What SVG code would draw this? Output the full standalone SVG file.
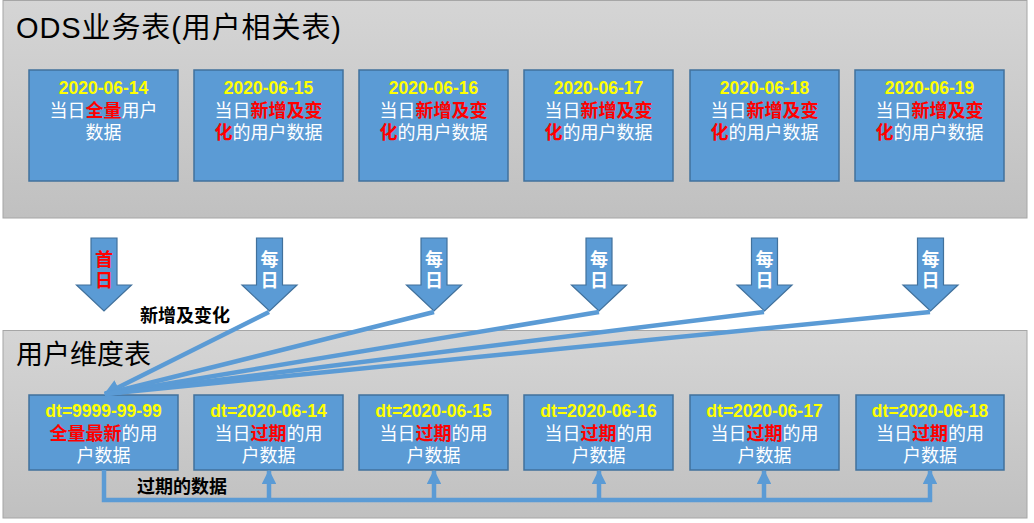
<svg xmlns="http://www.w3.org/2000/svg" width="1034" height="523" viewBox="0 0 1034 523">
<defs>
<linearGradient id="pg" x1="0" y1="0" x2="0" y2="1">
<stop offset="0" stop-color="#d5d5d5"/>
<stop offset="1" stop-color="#c0c0c0"/>
</linearGradient>
<marker id="ah" viewBox="0 0 10 10" refX="9" refY="5" markerWidth="3.6" markerHeight="3.6" orient="auto" markerUnits="strokeWidth">
<path d="M0,0 L10,5 L0,10 z" fill="#5b9bd5"/>
</marker>
<marker id="uh" viewBox="0 0 10 10" refX="9" refY="5" markerWidth="3.3" markerHeight="3.3" orient="auto" markerUnits="strokeWidth">
<path d="M0,0 L10,5 L0,10 z" fill="#5b9bd5"/>
</marker>
<path id="down" d="M-13,0 H13 V47 H27.5 L0,73 L-27.5,47 H-13 Z"/>
</defs>
<style>
.panel{fill:url(#pg);stroke:#a6a6a6;stroke-width:1}
.box{fill:#5b9bd5;stroke:#41719c;stroke-width:1.5}
.arr{fill:#5b9bd5;stroke:#41719c;stroke-width:1.2}
text{font-family:"Liberation Sans","Noto Sans CJK SC",sans-serif}
.title{font-size:29px;fill:#000;letter-spacing:0.9px}
.title2{font-size:27px;fill:#000}
.date{font-size:17.5px;font-weight:bold;fill:#ffff00;text-anchor:middle}
.ln{font-size:18px;fill:#fff;text-anchor:middle}
.red{fill:#ff0000;font-weight:bold}
.vt{font-size:18px;font-weight:bold;fill:#fff;text-anchor:middle}
.vr{fill:#ff0000}
.lbl{font-size:18px;font-weight:bold;fill:#000}
.conn{fill:none;stroke:#5b9bd5;stroke-width:4.5}
</style>

<g id="ods-panel">
<rect class="panel" x="3" y="0.5" width="1024" height="217.5"/>
<text class="title" x="16" y="38">ODS业务表(用户相关表)</text>
</g>

<g id="ods-0614">
<rect class="box" x="29" y="70" width="149" height="111"/>
<text class="date" x="103.5" y="94">2020-06-14</text>
<text class="ln" x="103.5" y="117">当日<tspan class="red">全量</tspan>用户</text>
<text class="ln" x="103.5" y="139">数据</text>
</g>
<g id="ods-0615">
<rect class="box" x="194" y="70" width="149" height="111"/>
<text class="date" x="268.5" y="94">2020-06-15</text>
<text class="ln" x="268.5" y="117">当日<tspan class="red">新增及变</tspan></text>
<text class="ln" x="268.5" y="139"><tspan class="red">化</tspan>的用户数据</text>
</g>
<g id="ods-0616">
<rect class="box" x="359" y="70" width="149" height="111"/>
<text class="date" x="433.5" y="94">2020-06-16</text>
<text class="ln" x="433.5" y="117">当日<tspan class="red">新增及变</tspan></text>
<text class="ln" x="433.5" y="139"><tspan class="red">化</tspan>的用户数据</text>
</g>
<g id="ods-0617">
<rect class="box" x="524" y="70" width="149" height="111"/>
<text class="date" x="598.5" y="94">2020-06-17</text>
<text class="ln" x="598.5" y="117">当日<tspan class="red">新增及变</tspan></text>
<text class="ln" x="598.5" y="139"><tspan class="red">化</tspan>的用户数据</text>
</g>
<g id="ods-0618">
<rect class="box" x="690" y="70" width="149" height="111"/>
<text class="date" x="764.5" y="94">2020-06-18</text>
<text class="ln" x="764.5" y="117">当日<tspan class="red">新增及变</tspan></text>
<text class="ln" x="764.5" y="139"><tspan class="red">化</tspan>的用户数据</text>
</g>
<g id="ods-0619">
<rect class="box" x="855" y="70" width="149" height="111"/>
<text class="date" x="929.5" y="94">2020-06-19</text>
<text class="ln" x="929.5" y="117">当日<tspan class="red">新增及变</tspan></text>
<text class="ln" x="929.5" y="139"><tspan class="red">化</tspan>的用户数据</text>
</g>

<g id="dim-panel">
<rect class="panel" x="3" y="330.5" width="1024" height="187.5"/>
<text class="title2" x="16" y="364">用户维度表</text>
</g>

<g id="arrow-first">
<use href="#down" class="arr" x="104" y="238"/>
<text class="vt vr" x="104" y="266">首</text>
<text class="vt vr" x="104" y="287">日</text>
</g>
<g id="arrow-daily-1">
<use href="#down" class="arr" x="269.5" y="238"/>
<text class="vt" x="269.5" y="266">每</text>
<text class="vt" x="269.5" y="287">日</text>
</g>
<g id="arrow-daily-2">
<use href="#down" class="arr" x="434" y="238"/>
<text class="vt" x="434" y="266">每</text>
<text class="vt" x="434" y="287">日</text>
</g>
<g id="arrow-daily-3">
<use href="#down" class="arr" x="599" y="238"/>
<text class="vt" x="599" y="266">每</text>
<text class="vt" x="599" y="287">日</text>
</g>
<g id="arrow-daily-4">
<use href="#down" class="arr" x="764.5" y="238"/>
<text class="vt" x="764.5" y="266">每</text>
<text class="vt" x="764.5" y="287">日</text>
</g>
<g id="arrow-daily-5">
<use href="#down" class="arr" x="930.5" y="238"/>
<text class="vt" x="930.5" y="266">每</text>
<text class="vt" x="930.5" y="287">日</text>
</g>

<g id="dim-9999">
<rect class="box" x="29" y="395" width="149" height="75"/>
<text class="date" x="103.5" y="417">dt=9999-99-99</text>
<text class="ln" x="103.5" y="440"><tspan class="red">全量最新</tspan>的用</text>
<text class="ln" x="103.5" y="462">户数据</text>
</g>
<g id="dim-0614">
<rect class="box" x="194" y="395" width="149" height="75"/>
<text class="date" x="268.5" y="417">dt=2020-06-14</text>
<text class="ln" x="268.5" y="440">当日<tspan class="red">过期</tspan>的用</text>
<text class="ln" x="268.5" y="462">户数据</text>
</g>
<g id="dim-0615">
<rect class="box" x="359" y="395" width="149" height="75"/>
<text class="date" x="433.5" y="417">dt=2020-06-15</text>
<text class="ln" x="433.5" y="440">当日<tspan class="red">过期</tspan>的用</text>
<text class="ln" x="433.5" y="462">户数据</text>
</g>
<g id="dim-0616">
<rect class="box" x="524" y="395" width="149" height="75"/>
<text class="date" x="598.5" y="417">dt=2020-06-16</text>
<text class="ln" x="598.5" y="440">当日<tspan class="red">过期</tspan>的用</text>
<text class="ln" x="598.5" y="462">户数据</text>
</g>
<g id="dim-0617">
<rect class="box" x="690" y="395" width="149" height="75"/>
<text class="date" x="764.5" y="417">dt=2020-06-17</text>
<text class="ln" x="764.5" y="440">当日<tspan class="red">过期</tspan>的用</text>
<text class="ln" x="764.5" y="462">户数据</text>
</g>
<g id="dim-0618">
<rect class="box" x="856" y="395" width="148" height="75"/>
<text class="date" x="930" y="417">dt=2020-06-18</text>
<text class="ln" x="930" y="440">当日<tspan class="red">过期</tspan>的用</text>
<text class="ln" x="930" y="462">户数据</text>
</g>

<g id="connectors">
<line class="conn" x1="269" y1="312" x2="105" y2="394" marker-end="url(#ah)"/>
<line class="conn" x1="434" y1="312" x2="105" y2="394"/>
<line class="conn" x1="599" y1="312" x2="105" y2="394"/>
<line class="conn" x1="764" y1="312" x2="105" y2="394"/>
<line class="conn" x1="930" y1="312" x2="105" y2="394"/>
<text class="lbl" x="140" y="322">新增及变化</text>
<path class="conn" d="M104,470 V500 H932"/>
<line class="conn" x1="269" y1="500" x2="269" y2="471" marker-end="url(#uh)"/>
<line class="conn" x1="434" y1="500" x2="434" y2="471" marker-end="url(#uh)"/>
<line class="conn" x1="599" y1="500" x2="599" y2="471" marker-end="url(#uh)"/>
<line class="conn" x1="764" y1="500" x2="764" y2="471" marker-end="url(#uh)"/>
<line class="conn" x1="930" y1="502" x2="930" y2="471" marker-end="url(#uh)"/>
<text class="lbl" x="137" y="493">过期的数据</text>
</g>
</svg>
